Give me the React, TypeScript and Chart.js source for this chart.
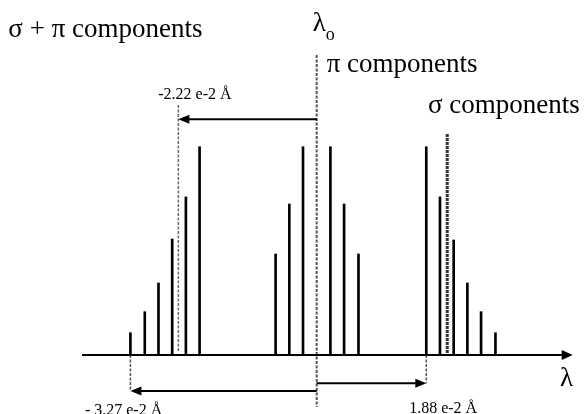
import { useEffect, useRef } from "react";
import { Chart, registerables } from "chart.js";

Chart.register(...registerables);

// Component positions (relative wavelength shift, arbitrary units; λo = 0)
const sigmaMinusPos = [-13.6, -12.55, -11.55, -10.55, -9.55, -8.55];
const sigmaMinusInt = [0.107, 0.208, 0.346, 0.557, 0.759, 1];
const piPos = [-3, -2, -1, 1, 2, 3.05];
const piInt = [0.485, 0.725, 1, 1, 0.725, 0.485];
const sigmaPlusPos = [8, 9, 10, 11, 12, 13.05];
const sigmaPlusInt = [1, 0.759, 0.552, 0.346, 0.208, 0.107];

// Marker positions
const lambda0Pos = 0;
const sigmaPiCentroidPos = -10.1;
const sigmaPlusCentroidPos = 9.53;
const leftShiftPos = sigmaMinusPos[0];
const rightShiftPos = sigmaPlusPos[0];

// Labels
const labelSigmaPi = "σ + π components";
const labelPi = "π components";
const labelSigma = "σ components";
const labelCentroid = "-2.22 e-2 Å";
const labelLeftShift = "- 3.27 e-2 Å";
const labelRightShift = "1.88 e-2 Å";

const X_MIN = -23.12;
const X_MAX = 19.66;
const Y_MIN = -0.2832;
const Y_MAX = 1.7043;

const SERIF = '"Liberation Serif", "Times New Roman", serif';

const toXY = (pos: number[], ints: number[]) => pos.map((p, i) => ({ x: p, y: ints[i] }));

const annotations = {
  id: "annotations",
  afterDatasetsDraw(chart: any) {
    const { ctx, scales } = chart;
    const px = (v: number) => scales.x.getPixelForValue(v);
    const py = (v: number) => scales.y.getPixelForValue(v);
    ctx.save();

    const dashed = (xv: number, y1: number, y2: number, w: number, color: string, dash: number[]) => {
      ctx.save();
      ctx.strokeStyle = color;
      ctx.lineWidth = w;
      ctx.setLineDash(dash);
      ctx.beginPath();
      ctx.moveTo(px(xv), py(y1));
      ctx.lineTo(px(xv), py(y2));
      ctx.stroke();
      ctx.restore();
    };

    const arrow = (x1: number, x2: number, yv: number, w: number, hl: number, hh: number) => {
      const a = px(x1);
      const b = px(x2);
      const yy = py(yv);
      const dir = b > a ? 1 : -1;
      ctx.strokeStyle = "#000";
      ctx.fillStyle = "#000";
      ctx.lineWidth = w;
      ctx.setLineDash([]);
      ctx.beginPath();
      ctx.moveTo(a, yy);
      ctx.lineTo(b - dir * hl * 0.6, yy);
      ctx.stroke();
      ctx.beginPath();
      ctx.moveTo(b, yy);
      ctx.lineTo(b - dir * hl, yy - hh);
      ctx.lineTo(b - dir * hl, yy + hh);
      ctx.closePath();
      ctx.fill();
    };

    // dashed markers
    dashed(lambda0Pos, 1.44, -0.25, 2, "#555", [3, 1.5]);
    dashed(sigmaPiCentroidPos, 1.2, 0.014, 1.5, "#666", [3, 1.5]);
    dashed(sigmaPlusCentroidPos, 1.061, 0.01, 3, "#333", [3, 1]);
    dashed(leftShiftPos, 0, -0.1728, 1.5, "#555", [3, 1.5]);
    dashed(rightShiftPos, 0, -0.1359, 1.5, "#555", [3, 1.5]);

    // axis
    arrow(-17.13, 18.69, 0, 2, 11, 5);

    // shift arrows
    arrow(lambda0Pos, sigmaPiCentroidPos, 1.1316, 2, 11, 4.5);
    arrow(lambda0Pos, leftShiftPos, -0.1728, 2, 11, 4.5);
    arrow(lambda0Pos, rightShiftPos, -0.1359, 2, 11, 4.5);

    // texts
    ctx.fillStyle = "#000";
    ctx.textAlign = "left";
    ctx.textBaseline = "alphabetic";
    ctx.font = `27px ${SERIF}`;
    ctx.fillText(labelSigmaPi, px(-22.51), py(1.528));
    ctx.fillText(labelPi, px(0.73), py(1.36));
    ctx.fillText(labelSigma, px(8.12), py(1.162));
    ctx.fillText("λ", px(17.76), py(-0.149));
    const lx = px(-0.29);
    ctx.fillText("λ", lx, py(1.555));
    const lw = ctx.measureText("λ").width;
    ctx.font = `18px ${SERIF}`;
    ctx.fillText("o", lx + lw, py(1.513));

    ctx.font = `16px ${SERIF}`;
    ctx.fillText(labelCentroid, px(-11.57), py(1.229));
    ctx.fillText(labelLeftShift, px(-16.92), py(-0.288));
    ctx.fillText(labelRightShift, px(6.75), py(-0.276));

    ctx.restore();
  },
};

export default function App() {
  const ref = useRef<HTMLCanvasElement | null>(null);
  useEffect(() => {
    if (!ref.current) return;
    const common = {
      backgroundColor: "#000",
      borderWidth: 0,
      barThickness: 2,
      grouped: false,
    };
    const chart = new Chart(ref.current, {
      type: "bar",
      data: {
        datasets: [
          { label: "σ components (blue)", data: toXY(sigmaMinusPos, sigmaMinusInt), ...common },
          { label: "π components", data: toXY(piPos, piInt), ...common },
          { label: "σ components (red)", data: toXY(sigmaPlusPos, sigmaPlusInt), ...common },
        ] as any,
      },
      options: {
        animation: false,
        responsive: false,
        devicePixelRatio: 1,
        layout: { padding: 0 },
        plugins: { legend: { display: false }, tooltip: { enabled: false }, title: { display: false } },
        scales: {
          x: { type: "linear", min: X_MIN, max: X_MAX, display: false, offset: false, grid: { offset: false } },
          y: { type: "linear", min: Y_MIN, max: Y_MAX, display: false },
        },
      } as any,
      plugins: [annotations],
    });
    return () => chart.destroy();
  }, []);
  return (
    <div style={{ position: "fixed", left: 0, top: 0, width: 586, height: 414, background: "#fff" }}>
      <canvas ref={ref} width={586} height={414} />
    </div>
  );
}
